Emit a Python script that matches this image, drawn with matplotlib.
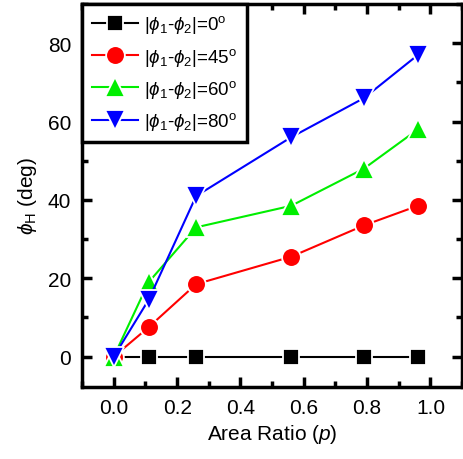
import matplotlib.pyplot as plt
from matplotlib.ticker import MultipleLocator

plt.rcParams['font.family'] = ['Liberation Sans', 'DejaVu Sans']
plt.rcParams['mathtext.fontset'] = 'custom'
plt.rcParams['mathtext.rm'] = 'Liberation Sans'
plt.rcParams['mathtext.it'] = 'Liberation Sans:italic'
plt.rcParams['mathtext.bf'] = 'Liberation Sans:bold'

p = [0.0, 0.11, 0.26, 0.56, 0.79, 0.96]
phi_0 = [0, 0, 0, 0, 0, 0]
phi_45 = [0, 7.5, 18.5, 25.5, 33.5, 38.5]
phi_60 = [0, 19, 33, 38.5, 48, 58]
phi_80 = [0, 14.5, 41, 56, 66, 77]
labels = [r'|$\phi_1$-$\phi_2$|=0$^{\rm o}$', r'|$\phi_1$-$\phi_2$|=45$^{\rm o}$',
          r'|$\phi_1$-$\phi_2$|=60$^{\rm o}$', r'|$\phi_1$-$\phi_2$|=80$^{\rm o}$']

fig = plt.figure(figsize=(4.64, 4.6), dpi=100)
ax = fig.add_axes([0.177, 0.157, 0.819, 0.832])

style = dict(lw=1.5, mec='white', mew=1.3)
ax.plot(p, phi_0, '-s', color='black', ms=12, label=labels[0], **style)
ax.plot(p, phi_45, '-o', color='red', ms=13.5, label=labels[1], **style)
ax.plot(p, phi_60, '-^', color='#00ee00', ms=15, label=labels[2], **style)
ax.plot(p, phi_80, '-v', color='blue', ms=15, label=labels[3], **style)

ax.set_xlim(-0.1, 1.1)
ax.set_ylim(-7.7, 90)
ax.xaxis.set_major_locator(MultipleLocator(0.2))
ax.xaxis.set_minor_locator(MultipleLocator(0.1))
ax.yaxis.set_major_locator(MultipleLocator(20))
ax.yaxis.set_minor_locator(MultipleLocator(10))
ax.tick_params(which='both', direction='in', top=True, right=True, width=2.5,
               labelsize=15, pad=8)
ax.tick_params(which='major', length=7)
ax.tick_params(which='minor', length=4)
for s in ax.spines.values():
    s.set_linewidth(2.5)

ax.set_xlabel('Area Ratio ($p$)', fontsize=15, labelpad=4)
ax.set_ylabel(r'$\phi_{\rm H}$ (deg)', fontsize=15, labelpad=6)

leg = ax.legend(loc='upper left', fontsize=13.5, fancybox=False, framealpha=1,
                edgecolor='black', borderaxespad=0, handlelength=2.5,
                handletextpad=0.3, labelspacing=0.55, borderpad=0.5)
leg.get_frame().set_linewidth(2.5)

fig.savefig('out.png')
